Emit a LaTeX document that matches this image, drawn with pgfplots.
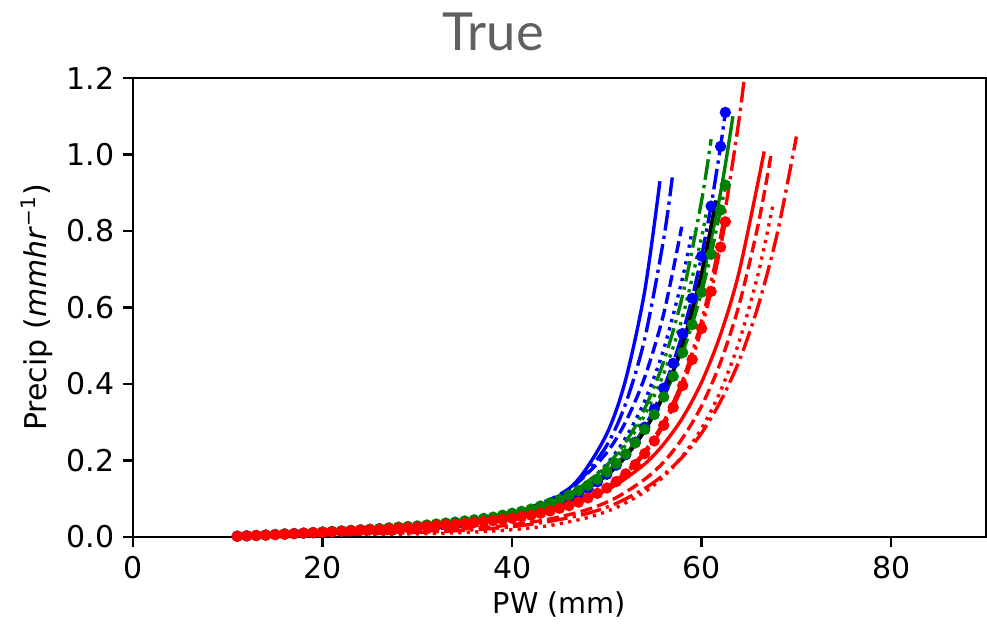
\documentclass[border=0pt]{standalone}
\usepackage{fontspec}
\setmainfont{DejaVu Sans}
\newfontfamily\titlefont{Lato}
\usepackage{pgfplots}
\pgfplotsset{compat=1.18}
\definecolor{mplgreen}{RGB}{0,128,0}
\definecolor{titlegray}{RGB}{96,96,96}

\pgfplotsset{
  ls dashed/.style={dash pattern=on 4.8pt off 2.1pt},
  ls dashdot/.style={dash pattern=on 8.3pt off 2.1pt on 1.3pt off 2.1pt},
  ls dotted/.style={dash pattern=on 1.3pt off 2.1pt},
  curve/.style={line width=1.35pt, no markers, smooth, line cap=butt},
  dots/.style={line width=1.35pt, mark=*, mark size=1.55pt, mark options={solid}, ls dashdot},
}

\begin{document}
\begin{tikzpicture}
\begin{axis}[
  at={(0,0)}, anchor=south west,
  scale only axis, width=341.2pt, height=183.6pt,
  xmin=0, xmax=90, ymin=0, ymax=1.2,
  xtick={0,20,40,60,80},
  ytick={0,0.2,0.4,0.6,0.8,1.0,1.2},
  xtick pos=bottom, ytick pos=left,
  yticklabel style={/pgf/number format/.cd, fixed, fixed zerofill, precision=1},
  /pgf/number format/assume math mode=true,
  tick align=outside, major tick length=4pt,
  tick style={line width=1pt, black},
  axis line style={line width=1pt},
  tick label style={font=\fontsize{12}{14}\selectfont},
  xlabel={PW (mm)},
  ylabel={Precip (\textit{mmhr}\textsuperscript{−1})},
  xlabel style={font=\fontsize{11.5}{13}\selectfont, at={(axis description cs:0.5,-0.146)}, anchor=center},
  ylabel style={font=\fontsize{12}{14}\selectfont, at={(axis description cs:-0.1125,0.5)}, anchor=center},
]
% blue
\addplot[curve, blue] coordinates {(11,0.001) (20,0.012) (30,0.026) (36,0.038) (40,0.055) (44,0.092) (47,0.151) (50,0.270) (52,0.413) (54,0.644) (55.6,0.930)};
\addplot[curve, blue, ls dashdot] coordinates {(11,0.001) (20,0.012) (30,0.026) (36,0.040) (40,0.057) (44,0.092) (47,0.144) (50,0.240) (52,0.350) (54,0.519) (56,0.780) (56.9,0.940)};
\addplot[curve, blue, ls dashed] coordinates {(11,0.001) (20,0.013) (30,0.028) (36,0.044) (40,0.063) (44,0.098) (47,0.144) (50,0.221) (52,0.302) (54,0.418) (56,0.584) (57.9,0.811)};
\addplot[curve, blue, ls dotted] coordinates {(11,0.001) (20,0.007) (30,0.018) (36,0.031) (40,0.049) (44,0.081) (47,0.122) (50,0.191) (52,0.260) (54,0.356) (56,0.491) (58,0.679) (59,0.800)};
\addplot[dots, blue] coordinates {(11,0.002) (12,0.003) (13,0.004) (14,0.005) (15,0.0065) (16,0.008) (17,0.009) (18,0.010) (19,0.0115) (20,0.013) (21,0.014) (22,0.015) (23,0.0165) (24,0.018) (25,0.0195) (26,0.021) (27,0.0225) (28,0.024) (29,0.0255) (30,0.027) (31,0.029) (32,0.031) (33,0.0335) (34,0.036) (35,0.0385) (36,0.041) (37,0.0445) (38,0.048) (39,0.052) (40,0.056) (41,0.061) (42,0.067) (43,0.073) (44,0.081) (45,0.090) (46,0.101) (47,0.113) (48,0.127) (49,0.144) (50,0.164) (51,0.188) (52,0.215) (53,0.248) (54,0.287) (55,0.334) (56,0.389) (57,0.454) (58,0.532) (59,0.624) (60,0.734) (61,0.865) (62,1.021) (62.5,1.110)};
% green
\addplot[curve, mplgreen, ls dashdot] coordinates {(11,0.001) (20,0.013) (30,0.028) (36,0.043) (40,0.060) (44,0.089) (47,0.127) (50,0.188) (52,0.249) (54,0.336) (56,0.459) (58,0.633) (60,0.880) (61,1.040)};
\addplot[curve, mplgreen] coordinates {(11,0.001) (20,0.013) (30,0.029) (36,0.044) (40,0.060) (44,0.086) (47,0.118) (50,0.168) (52,0.216) (54,0.282) (56,0.373) (58,0.497) (60,0.667) (62,0.901) (63.3,1.100)};
\addplot[curve, mplgreen, ls dotted] coordinates {(11,0.001) (20,0.013) (30,0.029) (36,0.044) (40,0.062) (44,0.091) (47,0.127) (50,0.185) (52,0.241) (54,0.319) (56,0.427) (58,0.577) (60,0.785) (60.5,0.850)};
\addplot[dots, mplgreen] coordinates {(11,0.002) (12,0.003) (13,0.004) (14,0.005) (15,0.0065) (16,0.008) (17,0.009) (18,0.010) (19,0.0115) (20,0.013) (21,0.0145) (22,0.016) (23,0.0175) (24,0.019) (25,0.0205) (26,0.022) (27,0.024) (28,0.026) (29,0.0275) (30,0.029) (31,0.0315) (32,0.034) (33,0.0365) (34,0.039) (35,0.042) (36,0.045) (37,0.0485) (38,0.052) (39,0.057) (40,0.062) (41,0.067) (42,0.073) (43,0.081) (44,0.089) (45,0.098) (46,0.109) (47,0.121) (48,0.135) (49,0.151) (50,0.170) (51,0.192) (52,0.217) (53,0.246) (54,0.281) (55,0.320) (56,0.366) (57,0.420) (58,0.482) (59,0.555) (60,0.640) (61,0.739) (62,0.855) (62.5,0.920)};
% red
\addplot[curve, red, ls dashdot] coordinates {(11,0.001) (20,0.012) (30,0.026) (36,0.038) (40,0.050) (44,0.069) (47,0.093) (50,0.131) (52,0.170) (54,0.224) (56,0.301) (58,0.410) (60,0.565) (62,0.785) (64,1.101) (65.2,1.353)};
\addplot[dots, red] coordinates {(11,0.002) (12,0.003) (13,0.004) (14,0.005) (15,0.006) (16,0.007) (17,0.0085) (18,0.010) (19,0.011) (20,0.012) (21,0.0135) (22,0.015) (23,0.0165) (24,0.018) (25,0.019) (26,0.020) (27,0.0215) (28,0.023) (29,0.0245) (30,0.026) (31,0.028) (32,0.030) (33,0.0315) (34,0.033) (35,0.0355) (36,0.038) (37,0.0405) (38,0.043) (39,0.046) (40,0.049) (41,0.053) (42,0.057) (43,0.062) (44,0.068) (45,0.075) (46,0.082) (47,0.091) (48,0.102) (49,0.114) (50,0.128) (51,0.145) (52,0.165) (53,0.189) (54,0.218) (55,0.251) (56,0.292) (57,0.339) (58,0.396) (59,0.464) (60,0.545) (61,0.642) (62,0.758) (62.5,0.824)};
\addplot[curve, red] coordinates {(11,0.001) (20,0.013) (30,0.028) (36,0.040) (40,0.053) (44,0.071) (48,0.101) (51,0.137) (54,0.191) (56,0.243) (58,0.312) (60,0.405) (62,0.530) (64,0.698) (66.6,1.008)};
\addplot[curve, red, ls dashed] coordinates {(11,0.001) (20,0.007) (30,0.015) (36,0.023) (40,0.032) (44,0.047) (48,0.072) (51,0.103) (54,0.151) (56,0.196) (58,0.259) (60,0.343) (62,0.457) (64,0.611) (66,0.821) (67.3,0.996)};
\addplot[curve, red, ls dotted] coordinates {(11,0.003) (20,0.006) (30,0.008) (36,0.013) (40,0.019) (44,0.030) (48,0.051) (51,0.077) (54,0.118) (56,0.158) (58,0.212) (60,0.284) (62,0.382) (64,0.514) (66,0.692) (67.5,0.865)};
\addplot[curve, red, ls dashdot] coordinates {(11,0.001) (20,0.005) (30,0.012) (36,0.019) (40,0.027) (44,0.041) (48,0.062) (51,0.088) (54,0.127) (56,0.163) (58,0.210) (60,0.272) (62,0.355) (64,0.463) (66,0.607) (68,0.796) (70,1.047)};
% black
\addplot[curve, black] coordinates {(13,0.004) (20,0.013) (30,0.028) (36,0.041) (40,0.056) (44,0.081) (47,0.112) (50,0.161) (52,0.210) (54,0.278) (56,0.373) (58,0.506) (60,0.692) (61.5,0.880)};
\end{axis}
\node[font=\titlefont\fontsize{21}{25}\selectfont, text=titlegray] at (144pt,202pt) {True};
\pgfresetboundingbox
\path (-53.2pt,-35.6pt) rectangle (341.6pt,214.8pt);
\end{tikzpicture}
\end{document}
